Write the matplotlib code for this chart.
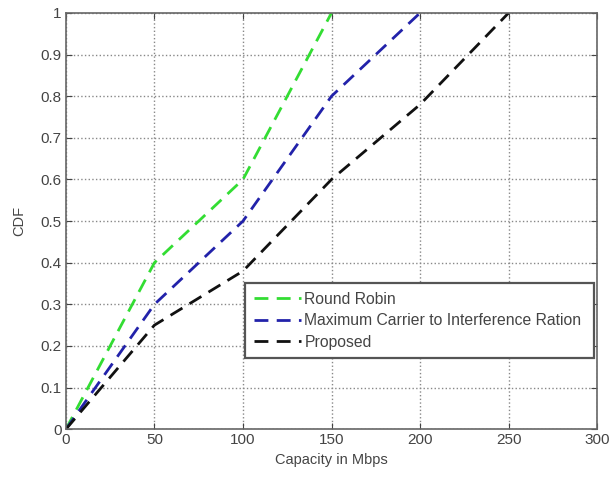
import matplotlib
matplotlib.use('Agg')
import matplotlib.pyplot as plt

plt.rcParams['font.family'] = ['Liberation Sans', 'DejaVu Sans']

# capacity (Mbps) and CDF values
x_rr = [0, 50, 100, 150]
y_rr = [0, 0.4, 0.6, 1.0]

x_mci = [0, 50, 100, 150, 200]
y_mci = [0, 0.3, 0.5, 0.8, 1.0]

x_prop = [0, 50, 100, 150, 200, 250]
y_prop = [0, 0.25, 0.38, 0.6, 0.78, 1.0]

xticks = [0, 50, 100, 150, 200, 250, 300]
yticks = [0, 0.1, 0.2, 0.3, 0.4, 0.5, 0.6, 0.7, 0.8, 0.9, 1]

fig = plt.figure(figsize=(6.1, 4.78), dpi=100)
ax = fig.add_axes([0.108, 0.102, 0.871, 0.871])

ax.plot(x_rr, y_rr, '--', color='#33dd33', lw=2, dashes=(5, 3), label='Round Robin')
ax.plot(x_mci, y_mci, '--', color='#2222aa', lw=2, dashes=(5, 3), label='Maximum Carrier to Interference Ration')
ax.plot(x_prop, y_prop, '--', color='#111111', lw=2, dashes=(5, 3), label='Proposed')

ax.set_xlim(0, 300)
ax.set_ylim(0, 1)
ax.set_xticks(xticks)
ax.set_yticks(yticks)
ax.set_yticklabels(['0', '0.1', '0.2', '0.3', '0.4', '0.5', '0.6', '0.7', '0.8', '0.9', '1'])
ax.tick_params(direction='in', labelsize=11, colors='#444444', length=4, top=True, right=True, pad=3)
for s in ax.spines.values():
    s.set_color('#666666')
    s.set_linewidth(1.2)
ax.grid(True, linestyle=':', color='#888888', lw=1)

ax.set_xlabel('Capacity in Mbps', fontsize=10.5, color='#444444', labelpad=4)
ax.set_ylabel('CDF', fontsize=10.5, color='#444444', labelpad=10)

leg = ax.legend(loc='lower left', bbox_to_anchor=(0.338, 0.170, 0.656, 0.18), mode='expand',
                fontsize=11.3, fancybox=False, framealpha=1, edgecolor='#555555',
                handlelength=3.0, handletextpad=0.2, borderpad=0.55, labelspacing=0.42,
                borderaxespad=0)
leg.get_frame().set_linewidth(1.6)
for t in leg.get_texts():
    t.set_color('#444444')

fig.savefig('out.png', dpi=100)
